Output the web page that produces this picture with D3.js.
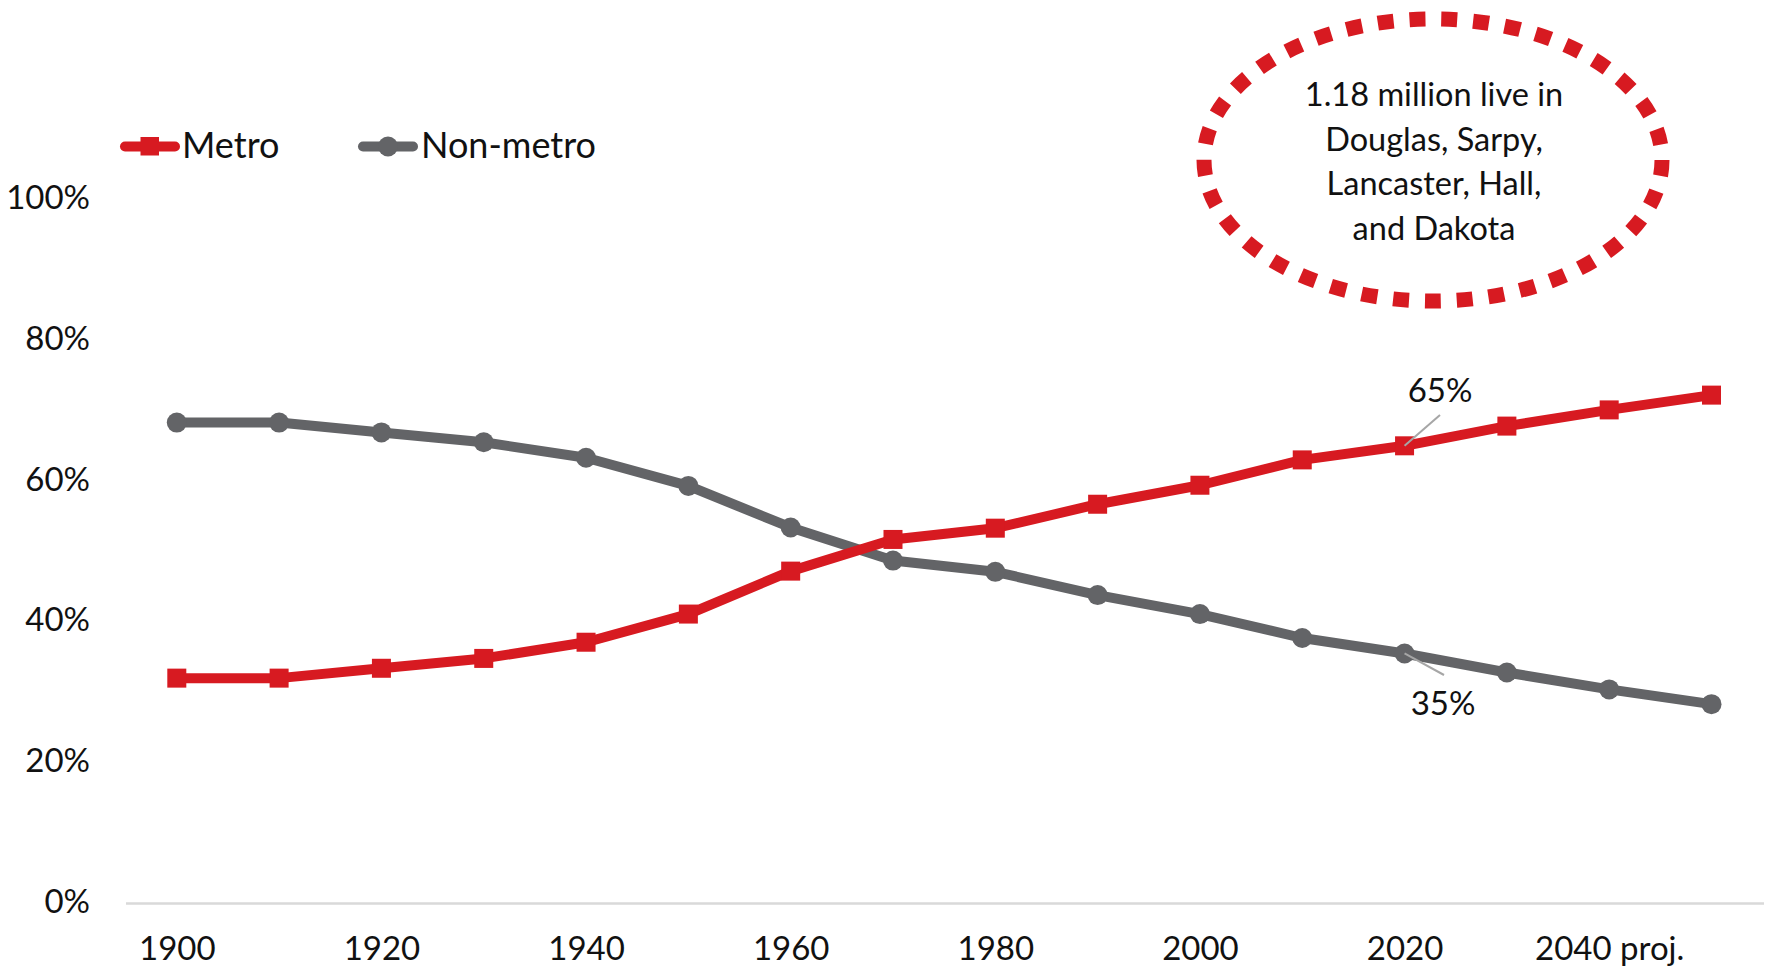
<!DOCTYPE html>
<html>
<head>
<meta charset="utf-8">
<script src="https://cdn.jsdelivr.net/npm/d3@7"></script>
<style>
  html, body { margin: 0; padding: 0; background: #fff; }
  svg { display: block; }
  text { font-family: Lato, "Open Sans", sans-serif; fill: #111; }
</style>
</head>
<body>
<svg id="chart" width="1766" height="970"></svg>
<script>
// ---- data ----
const years = [1900, 1910, 1920, 1930, 1940, 1950, 1960, 1970, 1980, 1990, 2000, 2010, 2020, 2030, 2040, 2050];
const metro = [31.8, 31.8, 33.2, 34.6, 36.9, 40.9, 47.0, 51.5, 53.1, 56.5, 59.2, 62.8, 64.8, 67.6, 69.9, 72.0];
const nonMetro = [68.1, 68.1, 66.7, 65.3, 63.1, 59.1, 53.2, 48.5, 46.9, 43.6, 40.9, 37.5, 35.3, 32.6, 30.2, 28.1];
const xTickYears = [1900, 1920, 1940, 1960, 1980, 2000, 2020, 2040];
const xTickLabels = ["1900", "1920", "1940", "1960", "1980", "2000", "2020", "2040 proj."];
const yTicks = [0, 20, 40, 60, 80, 100];
const seriesNames = ["Metro", "Non-metro"];
const calloutLines = ["1.18 million live in", "Douglas, Sarpy,", "Lancaster, Hall,", "and Dakota"];
const annotations = [
  { series: "Metro", year: 2020, label: "65%" },
  { series: "Non-metro", year: 2020, label: "35%" }
];

// ---- styling ----
const RED = "#d71a21";
const GRAY = "#636467";

const svg = d3.select("#chart");
const x = d3.scaleLinear().domain([1900, 2050]).range([176.8, 1711.5]);
const y = d3.scaleLinear().domain([0, 100]).range([902, 198]);

// baseline
svg.append("line")
  .attr("x1", 126).attr("x2", 1764)
  .attr("y1", y(0) + 1.5).attr("y2", y(0) + 1.5)
  .attr("stroke", "#d9d9d9").attr("stroke-width", 2.5);

// y axis labels
const yAxis = d3.axisLeft(y).tickValues(yTicks).tickFormat(d => d + "%").tickSize(0).tickPadding(0);
const gy = svg.append("g").attr("transform", "translate(90,0)").call(yAxis);
gy.select(".domain").remove();
gy.selectAll("text").style("font-family", "Lato, sans-serif").style("font-size", "33px").attr("fill", "#111");

// x axis labels
const xAxis = d3.axisBottom(x).tickValues(xTickYears)
  .tickFormat((d, i) => xTickLabels[i]).tickSize(0).tickPadding(35);
const gx = svg.append("g").attr("transform", `translate(0,${y(0)})`).call(xAxis);
gx.select(".domain").remove();
gx.selectAll("text").style("font-family", "Lato, sans-serif").style("font-size", "33px").attr("fill", "#111");

// lines
const line = d3.line().x(d => x(d[0])).y(d => y(d[1]));
const metroData = years.map((yr, i) => [yr, metro[i]]);
const nonData = years.map((yr, i) => [yr, nonMetro[i]]);

svg.append("path").datum(nonData).attr("d", line)
  .attr("fill", "none").attr("stroke", GRAY).attr("stroke-width", 10).attr("stroke-linejoin", "round");
svg.append("path").datum(metroData).attr("d", line)
  .attr("fill", "none").attr("stroke", RED).attr("stroke-width", 10).attr("stroke-linejoin", "round");

svg.append("g").selectAll("circle").data(nonData).join("circle")
  .attr("cx", d => x(d[0])).attr("cy", d => y(d[1])).attr("r", 10).attr("fill", GRAY);
svg.append("g").selectAll("rect").data(metroData).join("rect")
  .attr("x", d => x(d[0]) - 9.5).attr("y", d => y(d[1]) - 9.5)
  .attr("width", 19).attr("height", 19).attr("fill", RED);

// leader lines + annotation labels
const ann = [
  { ...annotations[0], lx1: 1440, ly1: 415, tx: 1440, ty: 402 },
  { ...annotations[1], lx1: 1444, ly1: 675, tx: 1443, ty: 715 }
];
ann.forEach(a => {
  const vals = a.series === "Metro" ? metro : nonMetro;
  const v = vals[years.indexOf(a.year)];
  svg.append("line")
    .attr("x1", a.lx1).attr("y1", a.ly1)
    .attr("x2", x(a.year)).attr("y2", y(v))
    .attr("stroke", "#a6a6a6").attr("stroke-width", 2);
  svg.append("text").attr("x", a.tx).attr("y", a.ty)
    .attr("text-anchor", "middle").style("font-size", "33px").text(a.label);
});

// legend
const legend = [
  { name: seriesNames[0], color: RED, shape: "square", x0: 120, tx: 182 },
  { name: seriesNames[1], color: GRAY, shape: "circle", x0: 358, tx: 421 }
];
legend.forEach(l => {
  const g = svg.append("g");
  g.append("line").attr("x1", l.x0 + 5).attr("x2", l.x0 + 55).attr("y1", 146.5).attr("y2", 146.5)
    .attr("stroke", l.color).attr("stroke-width", 10).attr("stroke-linecap", "round");
  if (l.shape === "square") {
    g.append("rect").attr("x", l.x0 + 20.5).attr("y", 137).attr("width", 18.5).attr("height", 18.5).attr("fill", l.color);
  } else {
    g.append("circle").attr("cx", l.x0 + 30).attr("cy", 146.5).attr("r", 10).attr("fill", l.color);
  }
  g.append("text").attr("x", l.tx).attr("y", 158).style("font-size", "36px").text(l.name);
});

// callout ellipse
const cx = 1433, cy = 160, rx = 229, ry = 141;
const ell = svg.append("ellipse")
  .attr("cx", cx).attr("cy", cy).attr("rx", rx).attr("ry", ry)
  .attr("fill", "none").attr("stroke", RED).attr("stroke-width", 15);
const a = rx, b = ry;
const circ = Math.PI * (3 * (a + b) - Math.sqrt((3 * a + b) * (a + 3 * b)));
const nDash = 37;
const period = circ / nDash;
ell.attr("stroke-dasharray", `${period * 0.5} ${period * 0.5}`);

const tg = svg.append("g");
calloutLines.forEach((t, i) => {
  tg.append("text").attr("x", 1434).attr("y", 106 + i * 44.5)
    .attr("text-anchor", "middle").style("font-size", "32.5px").text(t);
});
</script>
</body>
</html>
